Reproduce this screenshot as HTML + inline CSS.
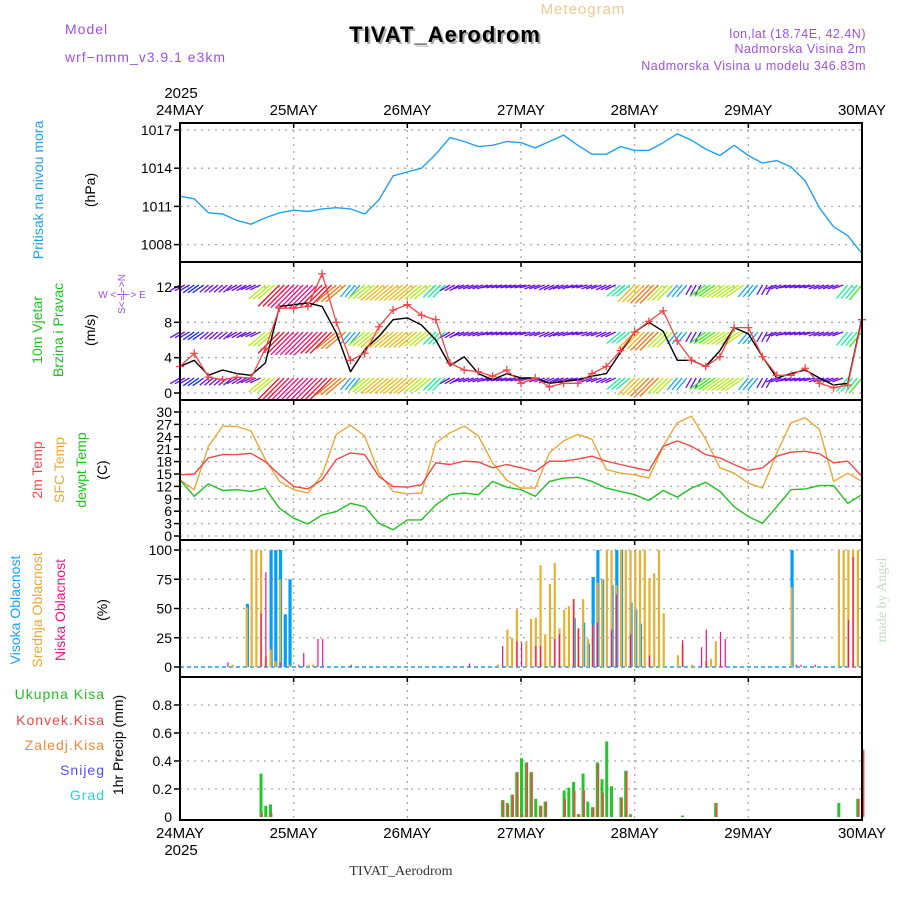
<!DOCTYPE html>
<html><head><meta charset="utf-8">
<style>
html,body{margin:0;padding:0;background:#fff;}
svg{display:block;font-family:"Liberation Sans",sans-serif;}
</style></head>
<body>
<svg id="chart" width="900" height="900" viewBox="0 0 900 900" xmlns="http://www.w3.org/2000/svg">
<rect x="0" y="0" width="900" height="900" fill="#fff"/>
<!-- header -->
<text x="65" y="34" font-size="14" fill="#a050e0" letter-spacing="1">Model</text>
<text x="65" y="62" font-size="14" fill="#a050e0" letter-spacing="1">wrf−nmm_v3.9.1  e3km</text>
<text x="583" y="14" font-size="15" fill="#f0c890" text-anchor="middle" letter-spacing="1">Meteogram</text>
<text x="447" y="44" font-size="22" font-weight="bold" fill="#aaa" text-anchor="middle" letter-spacing="1">TIVAT_Aerodrom</text>
<text x="445" y="42" font-size="22" font-weight="bold" fill="#000" text-anchor="middle" letter-spacing="1">TIVAT_Aerodrom</text>
<text x="866" y="38" font-size="12.5" fill="#a050e0" text-anchor="end" letter-spacing="0.5">lon,lat (18.74E, 42.4N)</text>
<text x="866" y="53" font-size="12.5" fill="#a050e0" text-anchor="end" letter-spacing="0.5">Nadmorska Visina 2m</text>
<text x="866" y="70" font-size="12.5" fill="#a050e0" text-anchor="end" letter-spacing="0.5">Nadmorska Visina u modelu 346.83m</text>
<text x="401" y="875" font-size="14" fill="#333" text-anchor="middle" font-family="Liberation Serif,serif">TIVAT_Aerodrom</text>
<text transform="translate(886,600) rotate(-90)" font-size="14" fill="#c8dcc8" text-anchor="middle" font-family="Liberation Serif,serif">made by Angel</text>

<!-- left axis titles -->
<text transform="translate(43,190) rotate(-90)" font-size="14" fill="#1fa0f0" text-anchor="middle">Pritisak na nivou mora</text>
<text transform="translate(95,190) rotate(-90)" font-size="14" fill="#000" text-anchor="middle">(hPa)</text>
<text transform="translate(42,330) rotate(-90)" font-size="14" fill="#20c020" text-anchor="middle">10m Vjetar</text>
<text transform="translate(63,330) rotate(-90)" font-size="14" fill="#20c020" text-anchor="middle">Brzina i Pravac</text>
<text transform="translate(95,330) rotate(-90)" font-size="14" fill="#000" text-anchor="middle">(m/s)</text>
<text x="122" y="298" font-size="10" fill="#a050e0" text-anchor="middle">W  &lt;−|−&gt;  E</text>
<text transform="translate(125,294) rotate(-90)" font-size="10" fill="#a050e0" text-anchor="middle">S&lt;−|−&gt;N</text>
<text transform="translate(42,470) rotate(-90)" font-size="14" fill="#f04848" text-anchor="middle">2m Temp</text>
<text transform="translate(64,470) rotate(-90)" font-size="14" fill="#e8a838" text-anchor="middle">SFC Temp</text>
<text transform="translate(86,470) rotate(-90)" font-size="14" fill="#20c020" text-anchor="middle">dewpt Temp</text>
<text transform="translate(107,470) rotate(-90)" font-size="14" fill="#000" text-anchor="middle">(C)</text>
<text transform="translate(20,610) rotate(-90)" font-size="14" fill="#1fa0f0" text-anchor="middle">Visoka Oblacnost</text>
<text transform="translate(42,610) rotate(-90)" font-size="14" fill="#e8a838" text-anchor="middle">Srednja Oblacnost</text>
<text transform="translate(65,610) rotate(-90)" font-size="14" fill="#f0148c" text-anchor="middle">Niska Oblacnost</text>
<text transform="translate(107,610) rotate(-90)" font-size="14" fill="#000" text-anchor="middle">(%)</text>
<text x="105" y="699" font-size="14" fill="#20c020" text-anchor="end" letter-spacing="1">Ukupna Kisa</text>
<text x="105" y="725" font-size="14" fill="#f04848" text-anchor="end" letter-spacing="1">Konvek.Kisa</text>
<text x="105" y="750" font-size="14" fill="#f08838" text-anchor="end" letter-spacing="1">Zaledj.Kisa</text>
<text x="105" y="775" font-size="14" fill="#5050f0" text-anchor="end" letter-spacing="1">Snijeg</text>
<text x="105" y="800" font-size="14" fill="#30d0d0" text-anchor="end" letter-spacing="1">Grad</text>
<text transform="translate(123,745) rotate(-90)" font-size="14" fill="#000" text-anchor="middle">1hr Precip (mm)</text>

<g id="grid"></g>
<g id="marks"></g>
<g id="frame"></g>
</svg>
<script>
// ---------- data ----------
const dayLabels = ["24MAY","25MAY","26MAY","27MAY","28MAY","29MAY","30MAY"];
const pressTicks = [1008,1011,1014,1017];
const windTicks = [0,4,8,12];
const tempTicks = [0,3,6,9,12,15,18,21,24,27,30];
const cloudTicks = [0,25,50,75,100];
const precipTicks = [0.2,0.4,0.6,0.8];
const tempTickLabels = ["0","3","6","9","12","15","18","21","24","27","30"];
const precipTickLabels = ["0.2","0.4","0.6","0.8"];

// 3-hourly series, 0..144 h
const pressure = [1011.8,1011.6,1010.5,1010.4,1009.9,1009.6,1010.1,1010.5,1010.7,1010.6,1010.8,1010.9,1010.8,1010.4,1011.5,1013.4,
 1013.7,1014,1015.1,1016.4,1016.1,1015.7,1015.8,1016.1,1016,1015.6,1016.1,1016.6,1015.8,1015.1,1015.1,1015.7,1015.4,1015.4,1016,1016.7,1016.2,1015.5,1015,1015.8,1015,1014.4,1014.6,1014.1,1013,1010.9,1009.4,1008.7,1007.3];
const windSpeed = [3,3.7,2,2.6,2.2,2,3.4,9.8,10,10.2,9.8,6.8,2.4,4.9,6.4,8.3,8.5,7.7,6,3.1,4.1,2.2,
 1.5,2.2,1.7,1.7,1.1,1.3,1.5,1.9,2.2,4.6,6.9,8,7,3.7,3.7,3,4.8,7.4,6.7,4.1,1.7,2.2,2.6,1.7,0.9,1.1,8.5];
const windGust = [3,4.5,1.8,1.5,1.8,1.7,5,9.6,9.6,9.8,13.5,8,3.7,4.5,7.5,9.4,10,8.8,8.3,3.4,2.6,2.4,
 1.9,2.6,1.1,1.7,0.7,1.1,1.1,2.2,3,4.8,6.9,8.1,9.3,5.9,3.7,3,4.1,7.4,7.4,4.1,2,2,2.8,1.1,0.6,0.9,8.3];
const vecSpeed = [3,4,3,3,3,3,8,12,13,13,12,10,5,8,9,9,9,8,6,3,3,3,3,3,3,3,3,3,3,3,3,6,9,10,8,5,3,7,8,8,5,3,3,3,3,3,3,6,7];
const vecDir = [60,55,50,50,60,65,50,45,45,45,45,50,40,50,50,50,50,50,45,60,70,70,75,75,75,70,65,70,75,70,65,50,45,45,45,40,30,55,55,55,40,30,70,75,75,70,70,40,40];
const temp2m = [14.8,15,18.9,19.7,19.7,20,18,14.8,12,11.4,13.6,18.5,20.1,19.7,14.4,12,11.8,12.4,17.7,17.3,18.1,17.9,16.5,17.3,16.5,
 15.6,18.1,18.1,18.6,19.3,18.1,17.3,16.5,15.8,21.7,23,21.7,19.7,18.9,17.3,15.9,16.5,19.3,20.3,20.5,19.9,17.7,18.1,14.4];
const tempSfc = [13.6,11.2,21.7,26.6,26.5,25.4,18.5,13.2,11.2,10.4,14.8,24.6,26.8,24.2,15.2,10.8,10.2,10.4,22.5,25,26.6,24.2,17.7,13.5,11.6,
 11.6,20.1,23,24.6,23.4,16.1,15.2,14.8,14,21.7,27.4,29,23.4,16.5,15.2,12.8,11.6,20.1,27.4,28.6,25.8,13.2,15.2,13.2];
const tempDew = [13.6,9.6,12.6,11,11.2,10.8,11.6,6.7,4.3,2.9,5.1,5.9,7.9,7.1,3.1,1.5,3.9,3.9,7.5,10,10.4,10,13.2,11.8,11.2,
 9.6,13.2,14,14.2,13.2,11.6,10.8,10,8.6,11,9.4,11.6,13,10.8,7.1,4.7,3.1,7.1,11.2,11.4,12.2,12.2,7.9,10];

// hourly clouds (sparse: hour, percent)
const highHours = [14,19,20,21,22,23,83,85,86,87,88,89,91,92,93,95,96,97,129];
const highVals  = [54,100,100,100,45,75,42,38,20,77,100,75,70,100,100,55,49,37,100];
const midHours = [11,14,15,16,17,18,19,20,21,23,27,28,67,69,70,71,73,74,75,76,77,78,79,80,81,82,83,84,85,86,87,88,89,90,91,92,93,94,95,96,97,98,99,100,101,102,105,106,108,111,112,113,114,129,139,140,141,142,143];
const midVals  = [2,51,100,100,100,9,15,5,75,2,2,2,2,32,25,49,22,41,42,87,28,71,89,33,49,52,58,33,58,24,36,72,75,100,100,70,100,100,100,100,100,100,76,80,100,46,10,19,2,5,7,22,2,68,100,100,100,100,100];
const lowHours = [10,17,18,21,25,26,29,30,36,61,68,71,72,75,76,79,80,83,84,87,88,91,92,95,99,106,110,111,114,115,130,131,134,141,142];
const lowVals  = [4,46,81,4,2,12,24,24,2,3,18,22,21,18,18,24,28,58,33,36,38,32,62,28,10,23,17,32,30,24,2,2,2,40,94];

// hourly precip (sparse)
const rainHours = [17,18,19,68,69,70,71,72,73,74,75,76,77,81,82,83,84,85,86,87,88,89,90,91,93,94,95,106,113,139,143,144];
const rainTotal = [0.31,0.08,0.09,0.12,0.1,0.16,0.32,0.42,0.39,0.32,0.13,0.08,0.11,0.19,0.21,0.25,0.02,0.31,0.11,0.07,0.39,0.27,0.54,0.22,0.14,0.33,0.02,0.01,0.1,0.1,0.13,0.48];
const rainConv  = [0.03,0,0.03,0.12,0.09,0.16,0.32,0.02,0.39,0.32,0,0.08,0.11,0.13,0,0.19,0.02,0.19,0,0.07,0.38,0.17,0,0,0.14,0.33,0,0,0.1,0,0.13,0.48];

// ---------- axes ----------
const X0=180, X1=862;
function X(h){return X0+h*(X1-X0)/144;}
function YP(p){return 130+(1017-p)*38.2/3;}
function YW(v){return 393-v*106/12;}
function YT(t){return 536-t*124/30;}
function YC(c){return 667-c*1.17;}
function YR(r){return 817-r*140;}
const panels=[[123,262],[262,400],[400,540],[540,677],[677,820]];

const NS="http://www.w3.org/2000/svg";
function el(tag,attrs,parent){const e=document.createElementNS(NS,tag);for(const k in attrs)e.setAttribute(k,attrs[k]);parent.appendChild(e);return e;}
const grid=document.getElementById('grid'), marks=document.getElementById('marks'), frame=document.getElementById('frame');

function hgrid(ys,labels,name){
  ys.forEach((y,i)=>{
    const l=el('line',{x1:X0,x2:X1,y1:y,y2:y,stroke:'#aaa','stroke-width':1.3,'stroke-dasharray':'2,5'},grid);
    
    
    const t=el('line',{x1:X0-6,x2:X0,y1:y,y2:y,stroke:'#000','stroke-width':1.5},frame);
    
    
    const tx=el('text',{x:X0-8,y:y+5,'font-size':14,'text-anchor':'end',fill:'#000'},frame);
    tx.textContent=labels[i];
    
    
  });
}
hgrid(pressTicks.map(YP),pressTicks.map(String),'pressure-axis');
hgrid(windTicks.map(YW),windTicks.map(String),'wind-axis');
hgrid(tempTicks.map(YT),tempTickLabels,'temp-axis');
hgrid(cloudTicks.map(YC),cloudTicks.map(String),'cloud-axis');
hgrid(precipTicks.map(YR),precipTickLabels,'precip-axis');
{const t=el('text',{x:X0-8,y:YR(0)+5,'font-size':14,'text-anchor':'end'},frame);t.textContent='0';

}

dayLabels.forEach((d,i)=>{
  const x=X(i*24);
  if(i>0&&i<6){const l=el('line',{x1:x,x2:x,y1:123,y2:820,stroke:'#aaa','stroke-width':1.3,'stroke-dasharray':'2,5'},grid);
  
  }
  const a=el('text',{x:x,y:115,'font-size':15,'text-anchor':'middle'},frame);a.textContent=d;
  
  
  const b=el('text',{x:x,y:838,'font-size':15,'text-anchor':'middle'},frame);b.textContent=d;
  
  
  [123,262,400,540,677].forEach(py=>{el('line',{x1:x,x2:x,y1:py,y2:py+5,stroke:'#000','stroke-width':1.5},frame);});
});
{const y1=el('text',{x:181,y:98,'font-size':15,'text-anchor':'middle'},frame);y1.textContent='2025';


const y2=el('text',{x:181,y:855,'font-size':15,'text-anchor':'middle'},frame);y2.textContent='2025';

}

panels.forEach(([a,b],i)=>{
  const r=el('rect',{x:X0,y:a,width:X1-X0,height:b-a,fill:'none',stroke:'#000','stroke-width':2},frame);
  
  
});

function poly(vals,yf,color,name,w){
  const pts=vals.map((v,i)=>X(i*3).toFixed(1)+','+yf(v).toFixed(1)).join(' ');
  const p=el('polyline',{points:pts,fill:'none',stroke:color,'stroke-width':w||1.5,'stroke-linejoin':'round'},marks);
  
  
}
// pressure
poly(pressure,YP,'#1fa0f0','pressure-line',1.4);

// wind vectors
function hueFor(s){const st=[[3,265],[5,200],[7,110],[9,45],[11,10],[13,-30]];
  if(s<=st[0][0])return st[0][1];
  for(let i=1;i<st.length;i++){if(s<=st[i][0]){const f=(s-st[i-1][0])/(st[i][0]-st[i-1][0]);return st[i-1][1]+f*(st[i][1]-st[i-1][1]);}}
  return -30;}
const rowsY=[285,332,378];
rowsY.forEach((ry,ri)=>{
  vecSpeed.forEach((s,i)=>{
    const toDir=(vecDir[i]+180)*Math.PI/180;
    const L=5+s*2.1;
    const dx=Math.sin(toDir)*L, dy=-Math.cos(toDir)*L;
    const col='hsl('+((hueFor(s)+360)%360)+',90%,50%)';
    for(let k=0;k<3;k++){
      if(i===vecSpeed.length-1&&k>0)break;
      const x=X(i*3)+k*4.74;
      const ln=el('line',{x1:x,y1:ry,x2:x+dx,y2:ry+dy,stroke:col,'stroke-width':1.3},marks);
      
      
    }
  });
});
// wind speed and gust
poly(windSpeed,YW,'#000','wind-speed-line',1.4);
poly(windGust,YW,'#f04848','wind-gust-line',1.3);
windGust.forEach((v,i)=>{
  const x=X(i*3),y=YW(v);
  const p=el('path',{d:`M${x-4},${y}h8M${x},${y-4}v8`,stroke:'#f04848','stroke-width':1.3},marks);
  
  
});

// temps
poly(tempSfc,YT,'#e8a838','sfc-temp-line',1.4);
poly(temp2m,YT,'#f04848','temp-2m-line',1.4);
poly(tempDew,YT,'#20c020','dewpoint-line',1.4);

// clouds baseline
{const b=el('line',{x1:X0,x2:X1,y1:YC(0),y2:YC(0),stroke:'#1fa0f0','stroke-width':1.5,'stroke-dasharray':'4,3'},marks);

}
function bars(hours,vals,yf,col,w,off,name){
  hours.forEach((h,i)=>{
    const y=yf(vals[i]),y0=yf(0);
    if(y0-y<0.5)return;
    const r=el('rect',{x:X(h)+off,y:y,width:w,height:y0-y,fill:col},marks);
    
    
  });
}
bars(highHours,highVals,YC,'#00a0f8',3.2,-0.5,'high-cloud-bar');
bars(midHours,midVals,YC,'#e8b030',2.2,-0.5,'mid-cloud-bar');
bars(lowHours,lowVals,YC,'#f0148c',1.2,0,'low-cloud-bar');

// precip
bars(rainHours,rainTotal,YR,'#20c828',3,-1,'total-precip-bar');
bars(rainHours,rainConv,YR,'#f04848',1.8,0.6,'convective-precip-bar');
</script>
</body></html>
